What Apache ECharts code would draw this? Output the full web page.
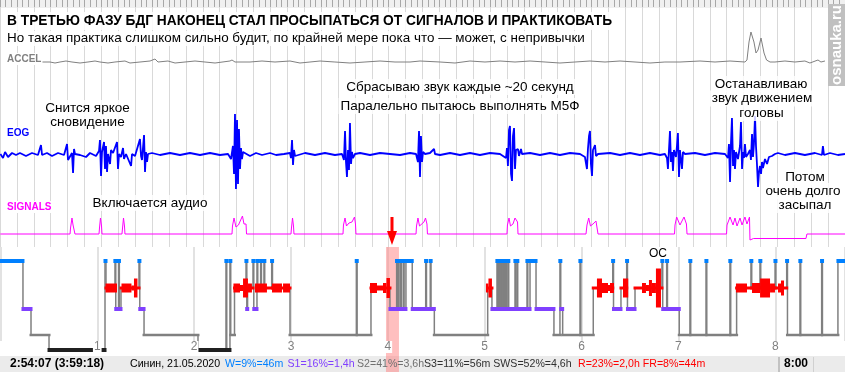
<!DOCTYPE html>
<html><head><meta charset="utf-8">
<script src="https://cdn.jsdelivr.net/npm/echarts@6/dist/echarts.min.js"></script>
<style>html,body{margin:0;padding:0;background:#fff}#c{width:845px;height:372px}</style>
</head><body><div id="c"></div>
<script>
// ---------- DATA (time in hours from start of record) ----------
const hourLabels = [1,2,3,4,5,6,7,8];
const accelTrace = [[0.430,0],[0.512,0],[0.564,-1],[0.615,0],[0.677,1],[0.739,0],[0.822,-1],[0.904,0],[0.977,1],[1.028,0],[1.111,-1],[1.183,0],[1.286,1],[1.338,-1],[1.441,0],[1.545,1],[1.596,3],[1.627,0],[1.730,1],[1.803,-1],[1.906,0],[2.009,1],[2.112,0],[2.216,-1],[2.370,1],[2.391,2],[2.422,0],[2.577,0],[2.701,1],[2.835,0],[2.990,1],[3.093,-1],[3.196,0],[3.300,1],[3.454,0],[3.609,-1],[3.764,0],[3.919,1],[4.074,0],[4.229,0],[4.332,1],[4.539,0],[4.693,-1],[4.848,1],[5.003,0],[5.158,1],[5.313,0],[5.468,1],[5.623,0],[5.777,-1],[5.932,0],[6.087,1],[6.242,0],[6.397,1],[6.552,0],[6.706,-1],[6.861,0],[7.016,0],[7.223,1],[7.378,0],[7.533,1],[7.687,0],[7.708,2],[7.729,20],[7.749,30],[7.765,32],[7.780,20],[7.801,9],[7.822,12],[7.853,24],[7.868,22],[7.884,9],[7.910,2],[7.946,0],[7.997,0],[8.100,1],[8.203,0],[8.306,1],[8.358,-1],[8.441,2],[8.472,0],[8.513,1]];
const eogTrace = [[0,0],[0.027,-4],[0.048,2],[0.079,-3],[0.120,1],[0.161,-1],[0.202,1],[0.264,-2],[0.326,1],[0.388,-1],[0.419,9],[0.430,-1],[0.481,1],[0.533,-2],[0.595,1],[0.657,-1],[0.688,10],[0.698,-6],[0.739,1],[0.750,-19],[0.760,5],[0.770,0],[0.822,-1],[0.884,-3],[0.925,1],[0.987,-2],[1.018,3],[1.028,14],[1.039,-22],[1.049,2],[1.070,12],[1.080,-15],[1.090,8],[1.101,-18],[1.111,0],[1.132,-10],[1.142,4],[1.163,1],[1.204,12],[1.214,-15],[1.225,0],[1.245,-3],[1.266,6],[1.276,-5],[1.297,0],[1.349,-12],[1.359,0],[1.390,-2],[1.441,15],[1.452,-2],[1.462,-6],[1.483,19],[1.493,-18],[1.503,2],[1.514,-8],[1.524,0],[1.565,1],[1.648,-1],[1.751,1],[1.854,-1],[1.957,1],[2.061,-1],[2.164,1],[2.267,-1],[2.350,0],[2.381,-5],[2.401,8],[2.412,-20],[2.422,40],[2.432,-35],[2.443,34],[2.453,-30],[2.463,25],[2.474,-15],[2.484,6],[2.494,-5],[2.505,2],[2.525,0],[2.577,-2],[2.639,1],[2.701,-1],[2.784,1],[2.846,-1],[2.928,0],[2.990,1],[3.000,-4],[3.011,14],[3.021,-11],[3.031,4],[3.042,-2],[3.062,0],[3.145,1],[3.248,-1],[3.351,1],[3.454,-1],[3.527,0],[3.547,-6],[3.558,23],[3.568,-8],[3.578,-23],[3.589,4],[3.599,-16],[3.609,31],[3.620,-10],[3.630,2],[3.640,-4],[3.661,0],[3.713,1],[3.816,-1],[3.919,1],[4.022,0],[4.126,-1],[4.229,1],[4.291,0],[4.311,-8],[4.322,23],[4.332,-23],[4.342,18],[4.353,-8],[4.363,2],[4.384,0],[4.435,1],[4.477,5],[4.487,0],[4.539,-1],[4.642,1],[4.745,-1],[4.848,1],[4.951,-1],[5.055,1],[5.158,0],[5.220,-4],[5.230,6],[5.240,-12],[5.251,24],[5.261,28],[5.272,-20],[5.282,-27],[5.292,18],[5.303,26],[5.313,-15],[5.323,4],[5.344,5],[5.354,-2],[5.375,5],[5.385,0],[5.468,1],[5.571,-1],[5.674,1],[5.777,-1],[5.881,1],[5.984,0],[6.035,-3],[6.056,-15],[6.066,5],[6.077,18],[6.087,23],[6.097,-10],[6.108,-22],[6.118,4],[6.139,9],[6.149,-2],[6.170,0],[6.294,1],[6.397,-1],[6.500,1],[6.603,-1],[6.706,1],[6.810,-1],[6.861,0],[6.882,-4],[6.892,-15],[6.903,5],[6.913,23],[6.923,-8],[6.934,2],[6.944,-17],[6.954,4],[6.965,5],[6.975,-3],[6.985,8],[6.995,21],[7.006,-23],[7.016,4],[7.027,-6],[7.037,-15],[7.047,2],[7.068,0],[7.171,1],[7.274,-1],[7.378,1],[7.481,0],[7.512,-4],[7.522,10],[7.533,-28],[7.543,12],[7.553,36],[7.564,-12],[7.574,4],[7.584,-15],[7.595,2],[7.615,-5],[7.636,8],[7.646,32],[7.657,-15],[7.667,2],[7.677,-4],[7.687,10],[7.698,-3],[7.718,0],[7.739,4],[7.749,-6],[7.760,20],[7.770,-3],[7.780,10],[7.791,38],[7.801,8],[7.811,-10],[7.822,-33],[7.832,-18],[7.842,-12],[7.853,-20],[7.863,-8],[7.873,-14],[7.894,-5],[7.915,-10],[7.935,-3],[7.966,-2],[7.997,0],[8.028,1],[8.100,-1],[8.203,1],[8.306,-1],[8.410,1],[8.482,-1],[8.492,8],[8.503,-1],[8.565,1],[8.647,-1],[8.720,0]];
const signalTrace = [[0,0],[0.719,0],[0.724,6],[0.739,16],[0.750,9],[0.765,9],[0.770,0],[1.018,0],[1.023,6],[1.033,16],[1.044,8],[1.049,0],[1.255,0],[1.261,6],[1.271,16],[1.281,8],[1.286,0],[2.391,0],[2.396,8],[2.412,16],[2.432,7],[2.458,9],[2.474,11],[2.499,18],[2.515,10],[2.536,10],[2.541,0],[3.000,0],[3.005,6],[3.016,16],[3.026,8],[3.031,0],[3.537,0],[3.542,9],[3.558,16],[3.573,8],[3.599,11],[3.630,12],[3.656,17],[3.666,10],[3.671,0],[4.291,0],[4.296,8],[4.311,16],[4.327,8],[4.342,10],[4.373,12],[4.389,16],[4.404,10],[4.409,0],[5.230,0],[5.235,9],[5.251,16],[5.266,8],[5.292,10],[5.313,16],[5.339,12],[5.344,0],[6.046,0],[6.056,9],[6.074,16],[6.092,8],[6.118,10],[6.149,13],[6.164,15],[6.170,0],[6.960,0],[6.965,9],[6.982,17],[7.016,9],[7.058,17],[7.083,10],[7.089,0],[7.497,0],[7.502,9],[7.533,17],[7.564,9],[7.584,16],[7.605,8],[7.636,16],[7.657,9],[7.687,17],[7.708,10],[7.734,17],[7.739,-6],[7.749,-6],[7.775,-4.5],[8.317,-4.5],[8.327,0],[8.720,0]];
const hypStart = [0,0.233,0.316,0.502,
  1.080,1.090,1.183,1.191,1.220,1.228,1.245,1.431,1.439,1.483,
  2.040,2.329,2.337,2.370,2.378,2.417,
  2.536,2.544,2.552,2.608,2.616,2.649,2.657,2.687,2.695,2.721,2.729,2.801,2.809,
  2.990,3.675,3.683,3.826,
  4.022,4.091,4.099,4.108,4.116,4.133,4.141,4.160,4.168,4.187,4.252,
  4.391,4.399,4.438,4.446,4.480,
  5.031,5.075,
  5.127,5.135,5.142,5.150,5.158,5.166,5.173,5.181,5.189,5.197,5.204,5.212,5.220,5.228,5.240,5.248,
  5.313,5.321,5.333,5.341,
  5.437,5.445,5.468,5.530,
  5.715,5.777,5.785,5.805,
  5.984,5.992,6.121,
  6.322,6.330,6.407,6.466,6.474,6.552,
  6.830,6.838,6.879,6.887,
  7.009,7.119,7.127,7.285,7.293,7.532,7.540,
  7.601,7.749,7.757,7.842,7.850,7.998,8.006,8.118,
  8.126,8.255,8.263,8.479,8.487,8.647];
const hypStage = ['W','S1','S2','S3',
  'W','R','W','S1','W','S1','R','W','S1','S2',
  'S3','W','S3','W','S2','R',
  'W','S1','R','W','S1','W','R','W','R','W','R','W','R',
  'S2','W','S2','R',
  'S1','W','S1','W','S1','W','S1','W','S1','W','S1',
  'W','S1','W','S1','S2',
  'R','S1',
  'W','S1','W','S1','W','S1','W','S1','W','S1','W','S1','W','S1','W','S1',
  'W','S1','W','S1',
  'W','S1','W','S1',
  'S2','W','S1','S2',
  'W','S2','R',
  'W','S1','R','W','S1','R',
  'W','S1','W','S1',
  'S2','W','S2','W','S2','W','S2',
  'R','W','R','W','R','W','R','W',
  'S2','W','S2','W','S2','W'];
const hypEndHour = 8.72;
const remStart = [1.085,1.250,1.353,1.379,2.406,2.474,2.505,2.556,2.628,2.804,2.918,3.816,3.888,3.950,3.986,5.013,5.039,6.159,6.211,6.273,6.294,6.428,6.624,6.665,6.696,6.727,6.768,7.594,7.760,7.843,7.946,8.028,8.059];
const remEnd   = [1.204,1.353,1.379,1.415,2.474,2.505,2.556,2.597,2.752,2.907,2.990,3.888,3.950,3.986,4.022,5.039,5.075,6.211,6.273,6.294,6.335,6.482,6.665,6.696,6.727,6.768,6.820,7.708,7.843,7.946,7.997,8.059,8.090];
const remDensity = [9,9,5,19,9,6,19,9,9,9,9,10,5,10,20,9,19,19,10,6,10,19,10,6,16,10,39,9,10,19,9,9,15];
const cursorWindow = [3.981, 4.115];
const cursorHour = 4.043;
const statusParts = ['2:54:07 (3:59:18)','Синин, 21.05.2020','W=9%=46m','S1=16%=1,4h','S2=41%=3,6h','S3=11%=56m SWS=52%=4,6h','R=23%=2,0h FR=8%=44m','8:00'];
const titleText = 'В ТРЕТЬЮ ФАЗУ БДГ НАКОНЕЦ СТАЛ ПРОСЫПАТЬСЯ ОТ СИГНАЛОВ И ПРАКТИКОВАТЬ';
const subtitleText = 'Но такая практика слишком сильно будит, по крайней мере пока что — может, с непривычки';
const notes = ['Снится яркое','сновидение','Включается аудио','Сбрасываю звук каждые ~20 секунд','Паралельно пытаюсь выполнять М5Ф','Останавливаю','звук движением','головы','Потом','очень долго','засыпал','ОС'];

// ---------- STYLE / LAYOUT ----------
const FONT = '"Liberation Sans", Arial, sans-serif';
const STAGES = ['W','R','S1','S2','S3'];
const STAGE_LEVEL = {W:0, R:27, S1:48, S2:74, S3:89};
const STAGE_STYLE = {W:{c:'#0080ff',h:4}, R:{c:'#ff0000',h:3}, S1:{c:'#8040ff',h:4}, S2:{c:'#808080',h:2.5}, S3:{c:'#202020',h:4}};
const notePos = [[87.5,108],[87.5,122],[150,203],[460,87],[460,106],[761,84],[762,98.5],[761.5,113],[805,177],[803,191],[805,205],[658,254]];
const statusX = [10,130,225,287.5,357,424,578,784];
const statusColor = ['#000','#000','#0080ff','#8040ff','#707070','#303030','#ff0000','#000'];
const statusBold = [true,false,false,false,false,false,false,true];

const segData = hypStart.map((t,i)=>[t, i+1<hypStart.length?hypStart[i+1]:hypEndHour, STAGE_LEVEL[hypStage[i]], STAGES.indexOf(hypStage[i])]);
const transData = hypStart.slice(1).map((t,i)=>[t, STAGE_LEVEL[hypStage[i]], STAGE_LEVEL[hypStage[i+1]]]);
const remData = remStart.map((t,i)=>[t, remEnd[i], remDensity[i]]);

const TL = 0.4, TW = 844.6;
const grids = [
  {left:-13.47, top:0, width:878.5, height:247},   // ruler / gridlines
  {left:TL, top:27, width:TW, height:40},          // accel
  {left:TL, top:109, width:TW, height:90},         // eog
  {left:TL, top:214, width:TW, height:30},         // signals
  {left:TL, top:247, width:TW, height:125},        // hypnogram
  {left:TL, top:247, width:TW, height:94}          // hour lines + labels
];
function tAxis(gi, extra){ return Object.assign({type:'value', gridIndex:gi, min:0, max:hypEndHour, show:false}, extra||{}); }

const graphics = [
  {type:'rect', z:-1, shape:{x:0,y:0,width:845,height:8}, style:{fill:'#f0f0f0'}},
  {type:'rect', z:1, shape:{x:0,y:356,width:845,height:16}, style:{fill:'#ebebeb'}},
  {type:'rect', z:11, shape:{x:778.5,y:357,width:1,height:15}, style:{fill:'#9a9a9a'}},
  {type:'rect', z:11, shape:{x:813,y:357,width:1,height:15}, style:{fill:'#d0d0d0'}},
  {type:'rect', z:11, shape:{x:828,y:4,width:17,height:82}, style:{fill:'#c0c0c0'}},
  {type:'text', z:12, x:836.8, y:45, rotation:Math.PI/2, style:{text:'osnauka.ru', fill:'#fff', font:'bold 15px '+FONT, textAlign:'center', textVerticalAlign:'middle', align:'center', verticalAlign:'middle'}},
  {type:'text', z:10, x:6, y:21, style:{text:titleText, fill:'#000', font:'bold 13.75px '+FONT, textVerticalAlign:'middle', verticalAlign:'middle', backgroundColor:'rgba(255,255,255,0.85)', padding:[2,1]}},
  {type:'text', z:10, x:6, y:38.5, style:{text:subtitleText, fill:'#000', font:'13.45px '+FONT, textVerticalAlign:'middle', verticalAlign:'middle', backgroundColor:'rgba(255,255,255,0.85)', padding:[1,1]}},
  {type:'text', z:10, x:6, y:59, style:{text:'ACCEL', fill:'#808080', font:'bold 10px '+FONT, textVerticalAlign:'middle', verticalAlign:'middle', backgroundColor:'#fff', padding:[1,1]}},
  {type:'text', z:10, x:6, y:133, style:{text:'EOG', fill:'#0000ff', font:'bold 10px '+FONT, textVerticalAlign:'middle', verticalAlign:'middle', backgroundColor:'#fff', padding:[1,1]}},
  {type:'text', z:10, x:6, y:207, style:{text:'SIGNALS', fill:'#ff00ff', font:'bold 10px '+FONT, textVerticalAlign:'middle', verticalAlign:'middle', backgroundColor:'#fff', padding:[1,1]}}
];
notes.forEach((t,i)=>{
  const last = i===notes.length-1;
  graphics.push({type:'text', z:10, x:notePos[i][0], y:notePos[i][1], style:{text:t, fill:'#000', font:(last?'12px ':'13.5px ')+FONT, textAlign:'center', textVerticalAlign:'middle', align:'center', verticalAlign:'middle', backgroundColor: last?null:'rgba(255,255,255,0.8)', padding:[1,2]}});
});
statusParts.forEach((t,i)=>{
  graphics.push({type:'text', z:12, x:statusX[i], y:364, style:{text:t, fill:statusColor[i], font:(statusBold[i]?'bold 12px ':'10.6px ')+FONT, textVerticalAlign:'middle', verticalAlign:'middle'}});
});

const option = {
  animation:false,
  backgroundColor:'#fff',
  grid: grids,
  graphic: graphics,
  xAxis: [
    {type:'value', gridIndex:0, min:0, max:50, interval:1, position:'top',
      axisLine:{show:false, onZero:false}, axisLabel:{show:false},
      axisTick:{show:true, inside:true, length:7, lineStyle:{color:'#a8a8a8'}},
      minorTick:{show:true, splitNumber:3, length:7, lineStyle:{color:'#a8a8a8'}},
      splitLine:{show:true, lineStyle:{color:'#d9d9d9', width:1}}},
    tAxis(1), tAxis(2), tAxis(3), tAxis(4),
    tAxis(5, {show:true, interval:1, axisLine:{show:false, onZero:false}, axisTick:{show:false}, axisLabel:{show:false},
      splitLine:{show:true, lineStyle:{color:'#e2e2e2', width:2}}}),
    tAxis(5, {show:true, interval:1, position:'bottom', z:10, axisLine:{show:false, onZero:false}, axisTick:{show:false}, splitLine:{show:false},
      axisLabel:{show:true, margin:0, color:'#808080', fontSize:12, fontFamily:FONT, backgroundColor:'#fff', padding:[0,1],
        showMinLabel:false, showMaxLabel:false, formatter:v=> hourLabels.indexOf(v)>=0 ? String(v) : ''}})
  ],
  yAxis: [
    {type:'value', gridIndex:0, show:false, min:0, max:1},
    {type:'value', gridIndex:1, show:false, min:-5, max:35},
    {type:'value', gridIndex:2, show:false, min:-45, max:45},
    {type:'value', gridIndex:3, show:false, min:-10, max:20},
    {type:'value', gridIndex:4, show:false, min:-14, max:111, inverse:true},
    {type:'value', gridIndex:5, show:false, min:0, max:1}
  ],
  series: [
    {type:'line', xAxisIndex:1, yAxisIndex:1, data:accelTrace, showSymbol:false, lineStyle:{color:'#808080', width:1}, z:3},
    {type:'line', xAxisIndex:2, yAxisIndex:2, data:eogTrace, showSymbol:false, lineStyle:{color:'#0000ff', width:1.8}, z:3},
    {type:'line', xAxisIndex:3, yAxisIndex:3, data:signalTrace, showSymbol:false, lineStyle:{color:'#ff00ff', width:1}, z:3,
      markPoint:{silent:true, symbol:'path://M3.5,0L6.5,0L6.5,14L10,14L5,28L0,14L3.5,14Z', symbolSize:[10,28], symbolKeepAspect:false,
        itemStyle:{color:'#ff0000'}, label:{show:false}, data:[{coord:[cursorHour, 3]}]}},
    {type:'line', xAxisIndex:4, yAxisIndex:4, data:[], z:2,
      markArea:{silent:true, itemStyle:{color:'rgba(255,128,128,0.5)'}, data:[[{xAxis:cursorWindow[0]},{xAxis:cursorWindow[1]}]]}},
    {type:'custom', xAxisIndex:4, yAxisIndex:4, z:3, data:transData, encode:{x:0, y:[1,2]},
      renderItem:(p,api)=>{ const a=api.coord([api.value(0),api.value(1)]), b=api.coord([api.value(0),api.value(2)]);
        return {type:'line', shape:{x1:a[0],y1:a[1],x2:b[0],y2:b[1]}, style:{stroke:'#808080', lineWidth:1.5}}; }},
    {type:'custom', xAxisIndex:4, yAxisIndex:4, z:4, data:segData, encode:{x:[0,1], y:2},
      renderItem:(p,api)=>{ const lv=api.value(2), st=STAGE_STYLE[STAGES[api.value(3)]];
        const a=api.coord([api.value(0),lv]), b=api.coord([api.value(1),lv]);
        let x0=a[0]-1.5, w=b[0]-a[0]+3;
        if (w<4){ x0=(a[0]+b[0])/2-2; w=4; }
        return {type:'rect', shape:{x:x0, y:a[1]-st.h/2, width:w, height:st.h}, style:{fill:st.c}}; }},
    {type:'custom', xAxisIndex:4, yAxisIndex:4, z:5, data:remData, encode:{x:[0,1]},
      renderItem:(p,api)=>{ const a=api.coord([api.value(0),STAGE_LEVEL.R]), b=api.coord([api.value(1),STAGE_LEVEL.R]); const h=api.value(2);
        return {type:'rect', shape:{x:a[0], y:a[1]-h/2, width:b[0]-a[0], height:h}, style:{fill:'#ff0000'}}; }}
  ]
};
echarts.init(document.getElementById('c'), null, {renderer:'canvas'}).setOption(option);
</script></body></html>
